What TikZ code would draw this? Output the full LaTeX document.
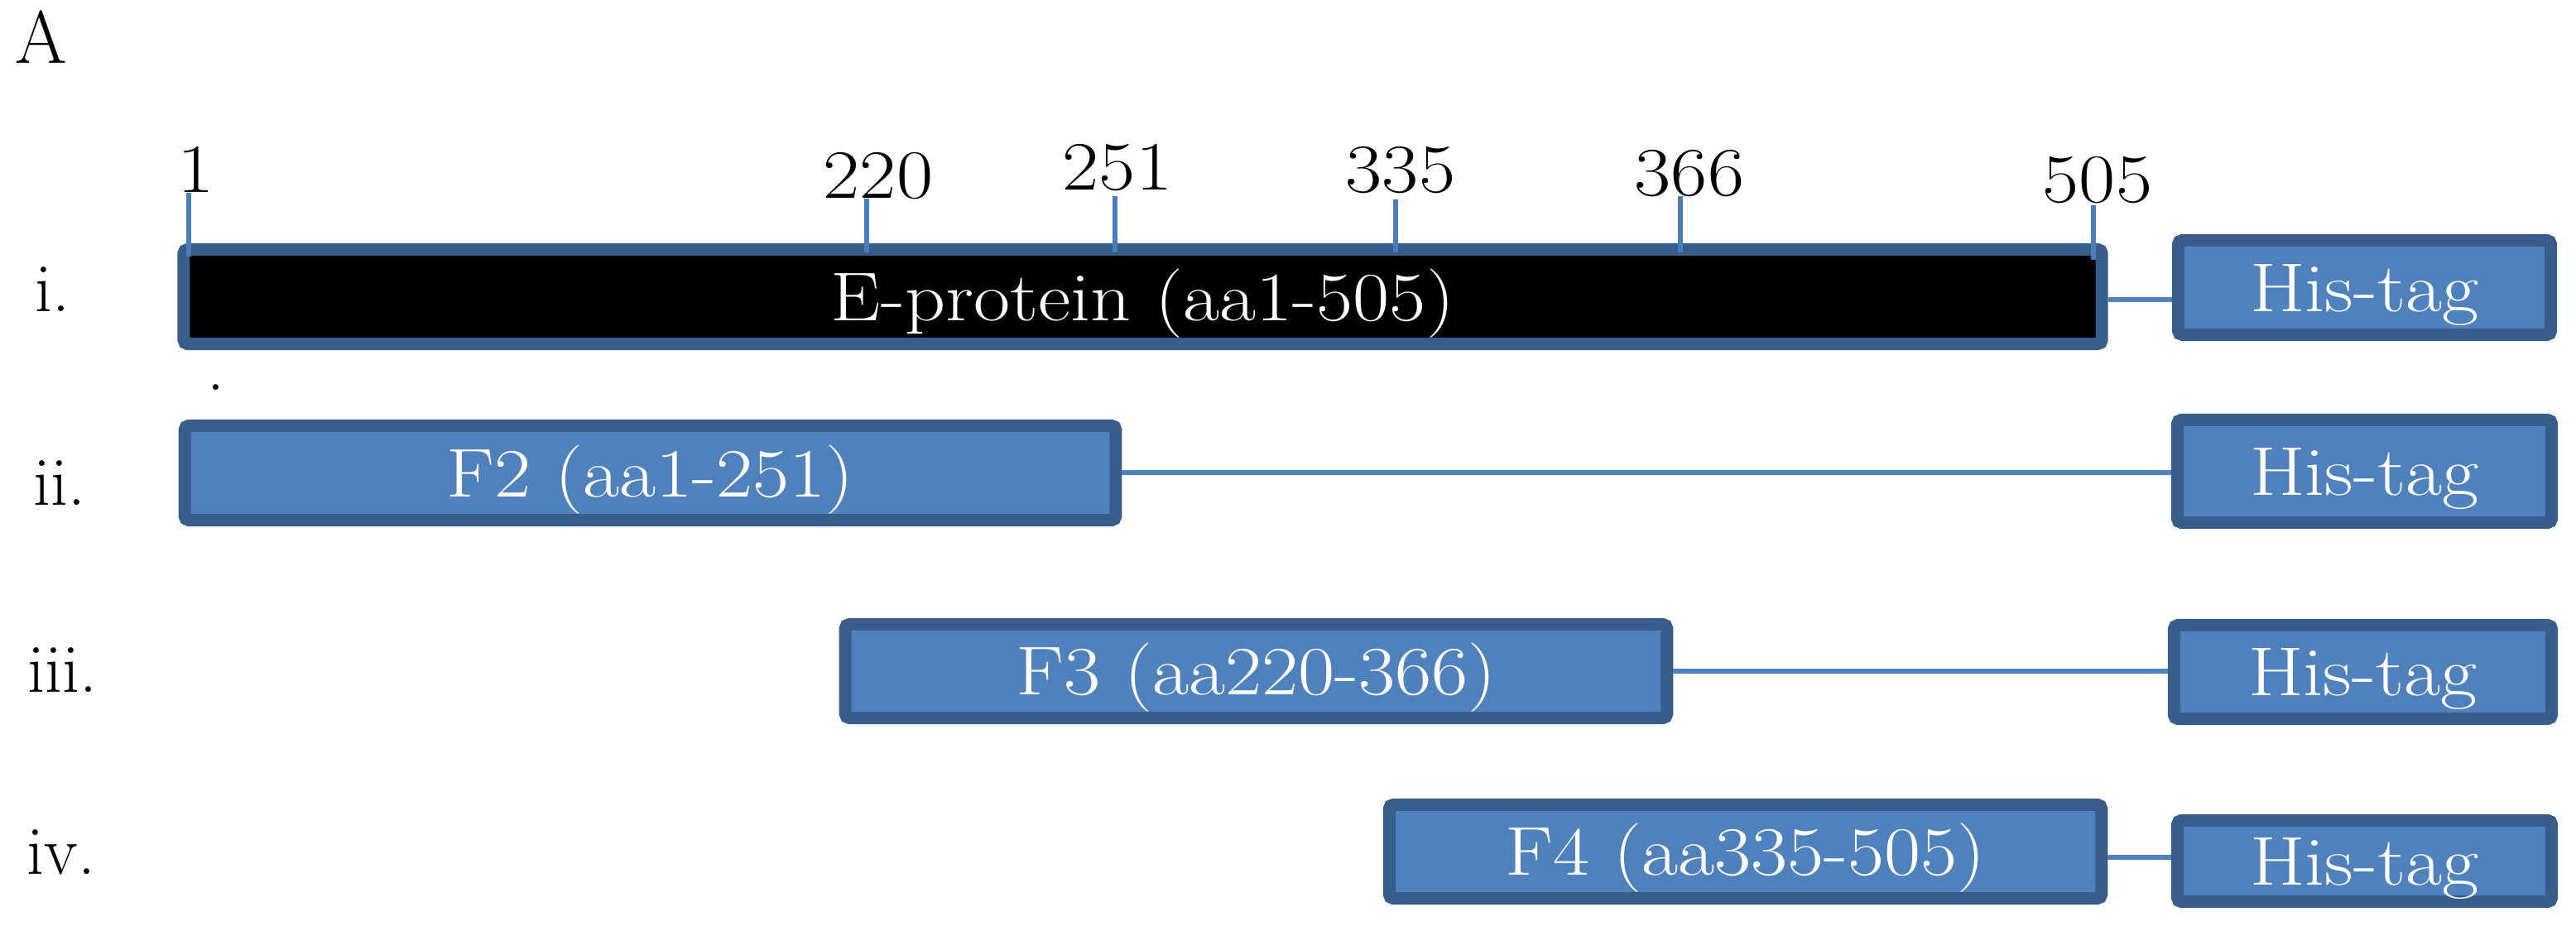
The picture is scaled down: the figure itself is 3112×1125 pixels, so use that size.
\documentclass[tikz,border=0pt]{standalone}
\usepackage{graphicx}
\usetikzlibrary{calc}
\definecolor{bord}{HTML}{385D8A}
\definecolor{boxfill}{HTML}{4F81BD}
\definecolor{tickc}{HTML}{4A7EBB}
\newcommand{\hscl}[1]{\scalebox{1.15}[1]{#1}}
\begin{document}
\begin{tikzpicture}[x=0.01cm,y=-0.01cm,
  every node/.style={font=\fontsize{23.75pt}{28pt}\selectfont},
  seg/.style={draw=bord, line width=0.15cm, rounded corners=0.05cm, inner sep=0pt, outer sep=0pt,
    text=white, text height=0.57cm, text depth=0pt, align=center},
  frag/.style={seg, fill=boxfill},
  fullbox/.style={seg, fill=black},
  tagbox/.style={seg, fill=boxfill},
  tickl/.style={draw=tickc, line width=0.06cm},
  conn/.style={draw=boxfill, line width=0.06cm, shorten <=0.075cm, shorten >=0.075cm},
  poslab/.style={anchor=base, inner sep=0pt},
  rowlab/.style={anchor=base west, inner sep=0pt}]
\useasboundingbox (0,0) rectangle (3112,1125);

% panel letter
\node[rowlab] (lA) at (18,77) {\scalebox{1.08}{A}};

% row labels
\node[rowlab] (r1) at (42,377) {i.};
\node[rowlab] (r2) at (40,611) {ii.};
\node[rowlab] (r3) at (33,836) {iii.};
\node[rowlab] (r4) at (32,1056) {iv.};
\node[poslab] (dot) at (261,472) {.};

% boxes
\node[fullbox, minimum width=23.16cm, minimum height=1.14cm] (box1) at (1380.5,358.5) {\hscl{E-protein (aa1-505)}};
\node[tagbox, minimum width=4.50cm, minimum height=1.14cm] (his1) at (2856.5,347.5) {\hscl{His-tag}};

\node[frag, minimum width=11.24cm, minimum height=1.14cm] (box2) at (785.5,571.5) {\hscl{F2 (aa1-251)}};
\node[tagbox, minimum width=4.52cm, minimum height=1.24cm] (his2) at (2856.5,569.5) {\hscl{His-tag}};

\node[frag, minimum width=9.92cm, minimum height=1.13cm] (box3) at (1517.5,811) {\hscl{F3 (aa220-366)}};
\node[tagbox, minimum width=4.56cm, minimum height=1.13cm] (his3) at (2854.5,812) {\hscl{His-tag}};

\node[frag, minimum width=8.60cm, minimum height=1.13cm] (box4) at (2108.5,1029) {\hscl{F4 (aa335-505)}};
\node[tagbox, minimum width=4.52cm, minimum height=0.98cm] (his4) at (2856.5,1040.5) {\hscl{His-tag}};

% connectors
\draw[conn] ([yshift=-0.035cm]box1.east) -- ([yshift=-0.035cm]box1.east -| his1.west);
\draw[conn] (box2.east) -- (box2.east -| his2.west);
\draw[conn] (box3.east) -- (box3.east -| his3.west);
\draw[conn] ([yshift=-0.07cm]box4.east) -- ([yshift=-0.07cm]box4.east -| his4.west);

% position labels and ticks
\node[poslab] (p1) at (237,233) {\hscl{1}};
\node[poslab] (p220) at (1061,240) {\hscl{220}};
\node[poslab] (p251) at (1350,230) {\hscl{251}};
\node[poslab] (p335) at (1692,233) {\hscl{335}};
\node[poslab] (p366) at (2041,237) {\hscl{366}};
\node[poslab] (p505) at (2534,245) {\hscl{505}};

\coordinate (k1) at (228,310);
\coordinate (k220) at (1047,305);
\coordinate (k251) at (1347,305);
\coordinate (k335) at (1686,305);
\coordinate (k366) at (2030,305);
\coordinate (k505) at (2529,314);

\draw[tickl] (k1) -- (k1 |- p1.base);
\draw[tickl] (k220) -- (k220 |- p220.base);
\draw[tickl] (k251) -- ([yshift=-0.07cm]k251 |- p251.base);
\draw[tickl] (k335) -- ([yshift=-0.08cm]k335 |- p335.base);
\draw[tickl] (k366) -- (k366 |- p366.base);
\draw[tickl] (k505) -- ([yshift=-0.03cm]k505 |- p505.base);
\end{tikzpicture}
\end{document}
